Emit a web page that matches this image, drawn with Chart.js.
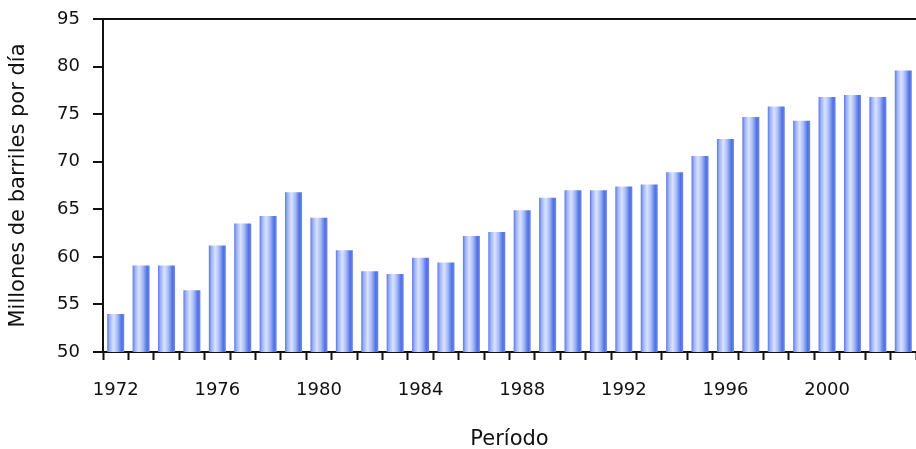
<!DOCTYPE html>
<html>
<head>
<meta charset="utf-8">
<script src="https://cdn.jsdelivr.net/npm/chart.js@4"></script>
<style>
  html, body { margin: 0; padding: 0; background: #fff; overflow: hidden; }
  #wrap { position: relative; width: 916px; height: 449px; }
</style>
</head>
<body>
<div id="wrap"><canvas id="oilChart"></canvas></div>
<script>
const years = [
  "1972", "1973", "1974", "1975", "1976", "1977", "1978", "1979",
  "1980", "1981", "1982", "1983", "1984", "1985", "1986", "1987",
  "1988", "1989", "1990", "1991", "1992", "1993", "1994", "1995",
  "1996", "1997", "1998", "1999", "2000", "2001", "2002", "2003"
];
const barrels = [
  54.0, 59.1, 59.1, 56.5, 61.2, 63.5, 64.3, 66.8,
  64.1, 60.7, 58.5, 58.2, 59.9, 59.4, 62.2, 62.6,
  64.9, 66.2, 67.0, 67.0, 67.4, 67.6, 68.9, 70.6,
  72.4, 74.7, 75.8, 74.3, 76.8, 77.0, 76.8, 79.6
];
// the top label of the original reads 95 although the step would give 85
const yTickLabels = ["50", "55", "60", "65", "70", "75", "80", "95"];

const tickFont = { family: "DejaVu Sans", size: 18 };
const titleFont = { family: "DejaVu Sans", size: 21 };
const barPct = 0.67;

function barGradient(ctx) {
  const chart = ctx.chart;
  const xScale = chart.scales.x;
  if (ctx.type !== "data" || !xScale || !chart.chartArea) return "#8ea4f2";
  const center = xScale.getPixelForValue(ctx.dataIndex);
  const half = (xScale.width / years.length) * barPct / 2;
  const g = chart.ctx.createLinearGradient(center - half, 0, center + half, 0);
  g.addColorStop(0, "#5a78e6");
  g.addColorStop(0.15, "#9fb3f5");
  g.addColorStop(0.38, "#d9e3ff");
  g.addColorStop(0.6, "#a8bbf6");
  g.addColorStop(0.85, "#4f70e6");
  g.addColorStop(1, "#6f89ea");
  return g;
}

new Chart(document.getElementById("oilChart"), {
  type: "bar",
  data: {
    labels: years,
    datasets: [
      {
        data: barrels,
        backgroundColor: barGradient,
        borderWidth: 0,
        barPercentage: barPct,
        categoryPercentage: 1
      }
    ]
  },
  options: {
    responsive: true,
    maintainAspectRatio: false,
    animation: false,
    layout: { padding: { top: 19, left: 0, right: 0, bottom: 0 } },
    plugins: {
      legend: { display: false },
      tooltip: { enabled: false }
    },
    scales: {
      x: {
        grid: {
          offset: true,
          drawOnChartArea: false,
          tickLength: 8,
          tickColor: "#111",
          tickWidth: 2
        },
        border: { color: "#111", width: 2 },
        ticks: {
          autoSkip: false,
          maxRotation: 0,
          padding: 20,
          color: "#111",
          font: tickFont,
          callback: function (value, index) {
            return index % 4 === 0 ? years[index] : "";
          }
        },
        title: {
          display: true,
          text: "Período",
          color: "#111",
          font: titleFont,
          padding: -3
        },
        afterFit: function (scale) {
          scale.height = 97;
          scale.paddingLeft = 0;
          scale.paddingRight = 0;
        }
      },
      y: {
        min: 50,
        max: 85,
        grid: {
          color: function (ctx) { return ctx.tick && ctx.tick.value === 85 ? "#111" : "rgba(0,0,0,0)"; },
          lineWidth: 2,
          tickLength: 10,
          tickColor: "#111",
          tickWidth: 2
        },
        border: { color: "#111", width: 2 },
        ticks: {
          stepSize: 5,
          padding: 13,
          color: "#111",
          font: tickFont,
          callback: function (value, index) { return yTickLabels[index]; }
        },
        title: {
          display: true,
          text: "Millones de barriles por día",
          color: "#111",
          font: titleFont,
          padding: 6
        },
        afterFit: function (scale) {
          scale.width = 103;
          scale.paddingTop = 0;
          scale.paddingBottom = 0;
        }
      }
    }
  }
});
</script>
</body>
</html>
